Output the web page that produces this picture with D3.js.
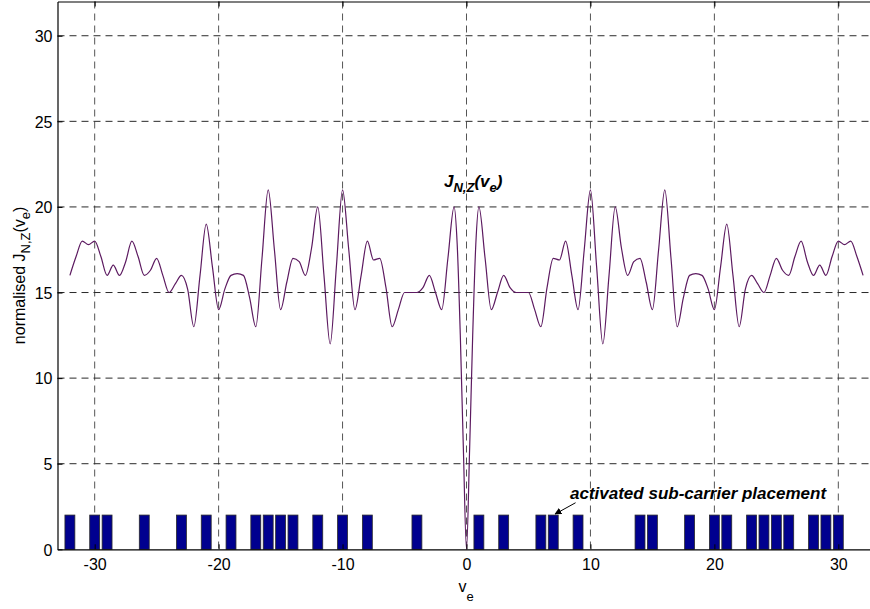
<!DOCTYPE html>
<html>
<head>
<meta charset="utf-8">
<script src="https://cdn.jsdelivr.net/npm/d3@7"></script>
<style>
  body { margin: 0; background: #fff; }
  svg { display: block; }
  text { font-family: "Liberation Sans", Arial, Helvetica, sans-serif; }
</style>
</head>
<body>
<svg id="chart" width="870" height="609"></svg>
<script>
// Activated sub-carrier indices and the height of their placement markers
const activeCarriers = [-32, -30, -29, -26, -23, -21, -19, -17, -16, -15, -14, -12, -10, -8, -4,
                        1, 3, 6, 7, 9, 14, 15, 18, 20, 21, 23, 24, 25, 26, 28, 29, 30];
const activeLevel = [2, 2, 2, 2, 2, 2, 2, 2, 2, 2, 2, 2, 2, 2, 2, 2,
                     2, 2, 2, 2, 2, 2, 2, 2, 2, 2, 2, 2, 2, 2, 2, 2];

// Normalised J_{N,Z}(v_e) against the offset v_e
const offsetV = [
  -32, -31.5, -31, -30.5, -30, -29.5, -29, -28.5, -28, -27.5, -27, -26.5, -26, -25.5, -25, -24.5,
  -24, -23.5, -23, -22.5, -22, -21.5, -21, -20.5, -20, -19.5, -19, -18.5, -18, -17.5, -17, -16.5,
  -16, -15.5, -15, -14.5, -14, -13.5, -13, -12.5, -12, -11.5, -11, -10.5, -10, -9.5, -9, -8.5,
  -8, -7.5, -7, -6.5, -6, -5.5, -5, -4.5, -4, -3.5, -3, -2.5, -2, -1.5, -1, -0.75, -0.5, -0.25,
  0,
  0.25, 0.5, 0.75, 1, 1.5, 2, 2.5, 3, 3.5, 4, 4.5, 5, 5.5, 6, 6.5, 7, 7.5, 8, 8.5,
  9, 9.5, 10, 10.5, 11, 11.5, 12, 12.5, 13, 13.5, 14, 14.5, 15, 15.5, 16, 16.5,
  17, 17.5, 18, 18.5, 19, 19.5, 20, 20.5, 21, 21.5, 22, 22.5, 23, 23.5, 24, 24.5,
  25, 25.5, 26, 26.5, 27, 27.5, 28, 28.5, 29, 29.5, 30, 30.5, 31, 31.5, 32
];
const normJ = [
  16, 17.1, 18, 17.8, 18, 17.1, 16, 16.6, 16, 16.8, 18, 17.1, 16, 16.3, 17, 16.0,
  15, 15.5, 16, 15.2, 13, 16.0, 19, 16.5, 14, 15.2, 16, 16.1, 16, 14.7, 13, 17.0,
  21, 17.5, 14, 15.6, 17, 16.8, 16, 17.6, 20, 16.0, 12, 16.5, 21, 17.5, 14, 16.0,
  18, 16.9, 17, 15.3, 13, 14.0, 15, 15.0, 15, 15.3, 16, 15.0, 14, 17.0, 20, 17.8, 12.5, 5.8,
  0,
  5.8, 12.5, 17.8, 20, 17.0, 14, 15.0, 16, 15.3, 15, 15.0, 15, 14.0, 13, 15.3, 17, 16.9, 18, 16.0,
  14, 17.5, 21, 16.5, 12, 16.0, 20, 17.6, 16, 16.8, 17, 15.6, 14, 17.5, 21, 17.0,
  13, 14.7, 16, 16.1, 16, 15.2, 14, 16.5, 19, 16.0, 13, 15.2, 16, 15.5, 15, 16.0,
  17, 16.3, 16, 17.1, 18, 16.8, 16, 16.6, 16, 17.1, 18, 17.8, 18, 17.1, 16
];

const xTicks = [-30, -20, -10, 0, 10, 20, 30];
const yTicks = [0, 5, 10, 15, 20, 25, 30];
const xDomain = [-33, 33];
const yDomain = [0, 32];

const svg = d3.select("#chart");
const plotLeft = 57.5, plotRight = 875.5, plotTop = 1.5, plotBottom = 549.3;

const x = d3.scaleLinear().domain(xDomain).range([plotLeft, plotRight]);
const y = d3.scaleLinear().domain(yDomain).range([plotBottom, plotTop]);

// dashed grid
const grid = svg.append("g");
grid.selectAll("line.v").data(xTicks).join("line")
  .attr("x1", d => x(d)).attr("x2", d => x(d))
  .attr("y1", plotTop).attr("y2", plotBottom)
  .attr("stroke", "#555").attr("stroke-width", 1)
  .attr("stroke-dasharray", "7,5");
grid.selectAll("line.h").data(yTicks.filter(d => d > 0)).join("line")
  .attr("x1", plotLeft).attr("x2", plotRight)
  .attr("y1", d => y(d)).attr("y2", d => y(d))
  .attr("stroke", "#2a2a2a").attr("stroke-width", 1)
  .attr("stroke-dasharray", "7,5");

// activated sub-carrier markers
const barW = x(0.8) - x(0);
svg.append("g").selectAll("rect").data(activeCarriers).join("rect")
  .attr("x", d => x(d) - barW / 2)
  .attr("y", (d, i) => y(activeLevel[i]))
  .attr("width", barW)
  .attr("height", (d, i) => y(0) - y(activeLevel[i]))
  .attr("fill", "#00008f")
  .attr("stroke", "#2a2a2a")
  .attr("stroke-width", 0.8);

// J curve
const pts = offsetV.map((v, i) => [v, normJ[i]]);
svg.append("path")
  .datum(pts)
  .attr("fill", "none")
  .attr("stroke", "#5c1a60")
  .attr("stroke-width", 1.2)
  .attr("d", d3.line().x(d => x(d[0])).y(d => y(d[1])).curve(d3.curveMonotoneX));

// axes with inward ticks
const fmt = d => String(d);
const axB = svg.append("g").attr("transform", `translate(0,${plotBottom})`)
  .call(d3.axisBottom(x).tickValues(xTicks).tickFormat(fmt).tickSize(-5).tickSizeOuter(0).tickPadding(9));
const axT = svg.append("g").attr("transform", `translate(0,${plotTop})`)
  .call(d3.axisTop(x).tickValues(xTicks).tickFormat("").tickSize(-5).tickSizeOuter(0));
const axL = svg.append("g").attr("transform", `translate(${plotLeft},0)`)
  .call(d3.axisLeft(y).tickValues(yTicks).tickFormat(fmt).tickSize(-5).tickSizeOuter(0).tickPadding(5));
[axB, axT, axL].forEach(g => {
  g.select(".domain").attr("stroke", "#000").attr("stroke-width", 1.2);
  g.selectAll(".tick line").attr("stroke", "#000");
  g.selectAll(".tick text").attr("font-size", 16).attr("fill", "#000")
    .style("font-family", '"Liberation Sans", Arial, sans-serif');
});
axL.selectAll(".tick text").attr("dy", "0.36em");

// axis titles
const xl = svg.append("text").attr("x", 466).attr("y", 592)
  .attr("text-anchor", "middle").attr("font-size", 16);
xl.append("tspan").text("v");
xl.append("tspan").attr("dy", 9).attr("font-size", 13).text("e");

const yl = svg.append("text")
  .attr("transform", `translate(25,${(plotTop + plotBottom) / 2}) rotate(-90)`)
  .attr("text-anchor", "middle").attr("font-size", 16);
yl.append("tspan").text("normalised J");
yl.append("tspan").attr("dy", 5).attr("font-size", 13).text("N,Z");
yl.append("tspan").attr("dy", -5).text("(v");
yl.append("tspan").attr("dy", 5).attr("font-size", 13).text("e");
yl.append("tspan").attr("dy", -5).text(")");

// curve annotation
const ja = svg.append("text").attr("x", 444).attr("y", 187)
  .attr("font-size", 17).attr("font-weight", "bold").attr("font-style", "italic");
ja.append("tspan").text("J");
ja.append("tspan").attr("dy", 5).attr("font-size", 13).text("N,Z");
ja.append("tspan").attr("dy", -5).text("(v");
ja.append("tspan").attr("dy", 5).attr("font-size", 13).text("e");
ja.append("tspan").attr("dy", -5).text(")");

// placement annotation with arrow
svg.append("defs").append("marker")
  .attr("id", "head").attr("viewBox", "0 0 10 10")
  .attr("refX", 9).attr("refY", 5)
  .attr("markerWidth", 7).attr("markerHeight", 7)
  .attr("orient", "auto")
  .append("path").attr("d", "M0,0 L10,5 L0,10 Z").attr("fill", "#000");

svg.append("text").attr("x", 570).attr("y", 499)
  .attr("font-size", 17).attr("font-weight", "bold").attr("font-style", "italic")
  .text("activated sub-carrier placement");

svg.append("line")
  .attr("x1", x(8.8)).attr("y1", y(2.72))
  .attr("x2", x(7.15)).attr("y2", y(2.06))
  .attr("stroke", "#000").attr("stroke-width", 1)
  .attr("marker-end", "url(#head)");
</script>
</body>
</html>
